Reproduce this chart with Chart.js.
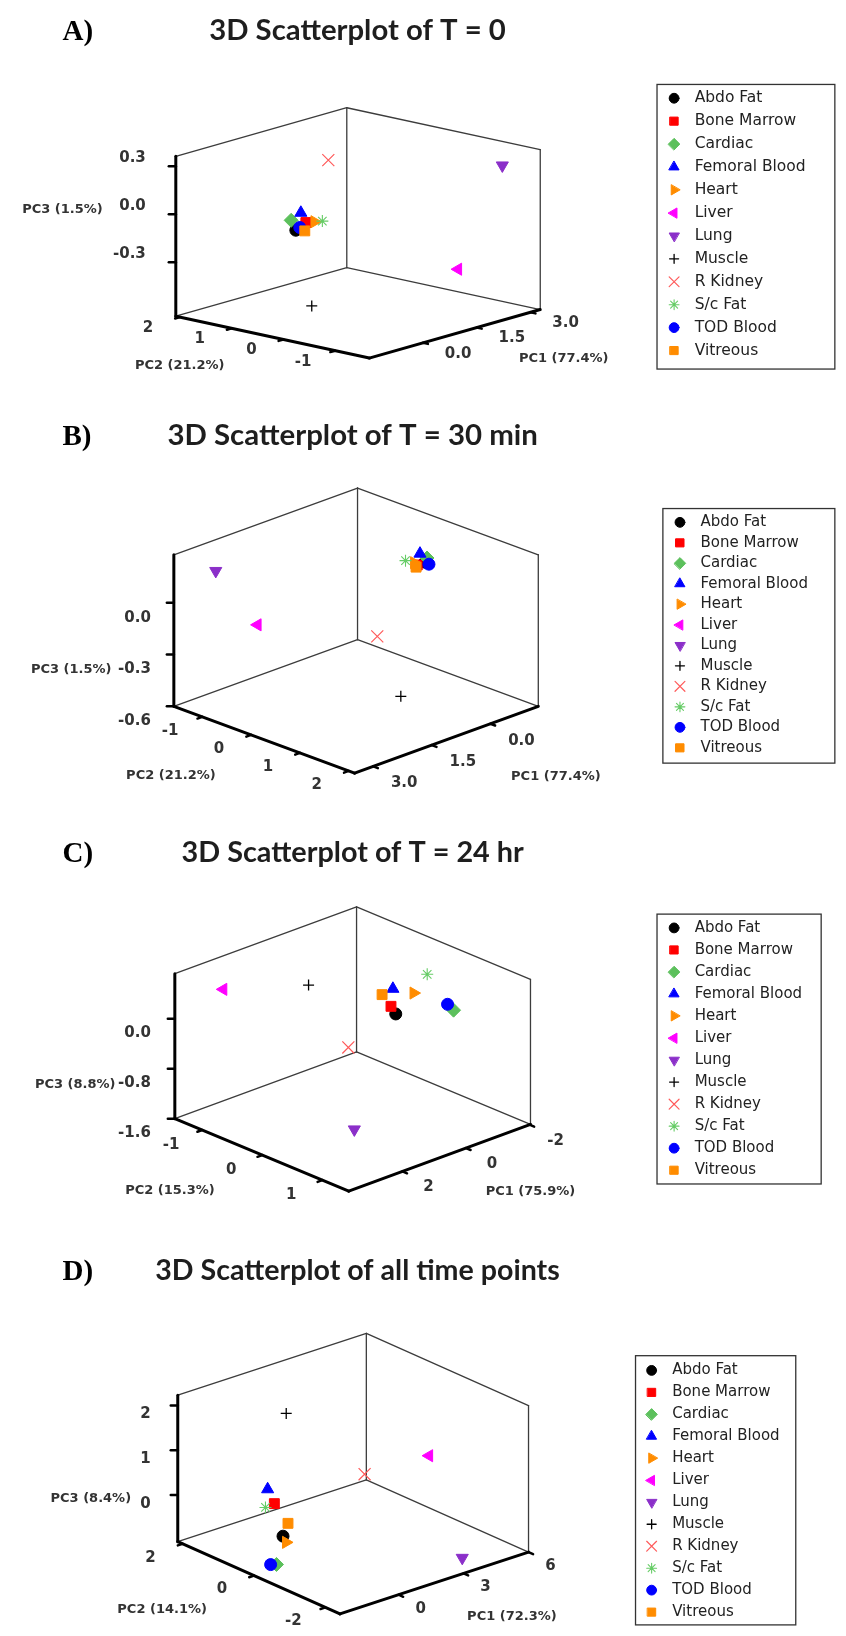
<!DOCTYPE html>
<html>
<head>
<meta charset="utf-8">
<title>3D Scatterplots of PCA scores</title>
<script src="https://cdn.jsdelivr.net/npm/chart.js@4.4.1/dist/chart.umd.min.js"></script>
<style>
  html, body { margin: 0; padding: 0; background: #fff; }
  #page { position: relative; width: 846px; height: 1636px; overflow: hidden; }
  .panel { position: absolute; left: 0; }
</style>
</head>
<body>
<div id="page">
  <canvas id="panelA" class="panel" width="846" height="403" style="top:0px"></canvas>
  <canvas id="panelB" class="panel" width="846" height="417" style="top:403px"></canvas>
  <canvas id="panelC" class="panel" width="846" height="418" style="top:820px"></canvas>
  <canvas id="panelD" class="panel" width="846" height="398" style="top:1238px"></canvas>
</div>
<script>
// tissues, in legend order
const tissues = ['Abdo Fat', 'Bone Marrow', 'Cardiac', 'Femoral Blood', 'Heart', 'Liver',
  'Lung', 'Muscle', 'R Kidney', 'S/c Fat', 'TOD Blood', 'Vitreous'];

// scores per time point (PC1, PC2, PC3), same order as tissues
const pc1T0 = [-0.85, -0.57, -0.98, -0.71, -0.33, 2.06, 3.02, -0.68, 0.59, -0.11, -0.74, -0.60];
const pc2T0 = [0.21, 0.21, 0.21, 0.21, 0.21, -0.91, -1.10, 0.02, 0.58, 0.21, 0.21, 0.21];
const pc3T0 = [-0.01, 0.02, 0.06, 0.09, 0.01, -0.36, 0.24, -0.48, 0.31, 0.00, 0.00, -0.03];

const pc1T30 = [-0.64, -0.44, -0.69, -0.51, -0.36, 2.02, 3.09, 0.68, 0.82, -0.14, -0.74, -0.41];
const pc2T30 = [0.27, 0.27, 0.27, 0.27, 0.27, -1.03, -1.03, 0.83, 0.46, 0.27, 0.27, 0.27];
const pc3T30 = [0.09, 0.09, 0.11, 0.15, 0.11, -0.19, 0.21, -0.52, -0.20, 0.14, 0.07, 0.08];

const pc1T24 = [0.30, 0.45, -1.52, 0.39, -0.26, 3.25, 1.32, 0.85, 0.96, -0.69, -1.33, 0.73];
const pc2T24 = [0.43, 0.43, 0.43, 0.43, 0.43, -0.88, 0.28, -0.73, -0.01, 0.43, 0.43, 0.43];
const pc3T24 = [0.20, 0.35, -0.08, 0.62, 0.43, 0.62, -1.52, 0.30, -0.39, 0.65, 0.05, 0.59];

const pc1All = [-0.84, -1.24, -1.90, -1.55, -0.70, 5.15, 3.68, 0.05, 2.17, -1.65, -2.17, -0.61];
const pc2All = [0.32, 0.32, -0.14, 0.32, 0.32, -0.14, -1.96, 0.77, -0.14, 0.32, -0.14, 0.32];
const pc3All = [-0.57, 0.22, -0.87, 0.59, -0.73, 0.44, -0.96, 1.87, 0.50, 0.20, -0.83, -0.32];

// tick labels
const pc1TicksT0 = ['0.0', '1.5', '3.0'];
const pc2TicksT0 = ['2', '1', '0', '-1'];
const pc3TicksT0 = ['0.3', '0.0', '-0.3'];
const pc1TicksT30 = ['0.0', '1.5', '3.0'];
const pc2TicksT30 = ['-1', '0', '1', '2'];
const pc3TicksT30 = ['0.0', '-0.3', '-0.6'];
const pc1TicksT24 = ['-2', '0', '2'];
const pc2TicksT24 = ['-1', '0', '1'];
const pc3TicksT24 = ['0.0', '-0.8', '-1.6'];
const pc1TicksAll = ['0', '3', '6'];
const pc2TicksAll = ['2', '0', '-2'];
const pc3TicksAll = ['2', '1', '0'];

const axisNamesT0 = ['PC1 (77.4%)', 'PC2 (21.2%)', 'PC3 (1.5%)'];
const axisNamesT30 = ['PC1 (77.4%)', 'PC2 (21.2%)', 'PC3 (1.5%)'];
const axisNamesT24 = ['PC1 (75.9%)', 'PC2 (15.3%)', 'PC3 (8.8%)'];
const axisNamesAll = ['PC1 (72.3%)', 'PC2 (14.1%)', 'PC3 (8.4%)'];

const colours = ['#000000', '#ff0000', '#5cc05c', '#0000ff', '#ff8c00', '#ff00ff',
  '#8b2fc9', '#000000', '#ff5a5a', '#66cc66', '#0000ff', '#ff8c00'];
const markers = [
  { style: 'circle', rotation: 0, radius: 6, line: 1 },
  { style: 'rect', rotation: 0, radius: 7, line: 1 },
  { style: 'rectRot', rotation: 0, radius: 7, line: 1 },
  { style: 'triangle', rotation: 0, radius: 7, line: 1 },
  { style: 'triangle', rotation: 90, radius: 7, line: 1 },
  { style: 'triangle', rotation: 270, radius: 7, line: 1 },
  { style: 'triangle', rotation: 180, radius: 7, line: 1 },
  { style: 'cross', rotation: 0, radius: 5.5, line: 1.3 },
  { style: 'crossRot', rotation: 0, radius: 8.5, line: 1.2 },
  { style: 'star', rotation: 0, radius: 6, line: 1.1 },
  { style: 'circle', rotation: 0, radius: 6, line: 1 },
  { style: 'rect', rotation: 0, radius: 7, line: 1 }
];

const panels = [
  {
    canvas: 'panelA', top: 0, height: 403, letter: 'A)', title: '3D Scatterplot of T = 0',
    titleAt: [356, 22], titleWidth: 297,
    front: [368, 366], right: [543, 315], left: [170, 322], boxHeight: 168,
    pc1Range: [-1.5, 3.27], pc2Range: [-1.66, 2.08], pc3Range: [-0.636, 0.362],
    pc1: pc1T0, pc2: pc2T0, pc3: pc3T0,
    pc1Ticks: pc1TicksT0, pc2Ticks: pc2TicksT0, pc3Ticks: pc3TicksT0, names: axisNamesT0,
    pc1Off: [35, 11], pc2Off: [-32, 11], pc3Off: [-30, -8],
    nameAt: [[567, 367], [174, 374], [54, 210]],
    legend: { box: [662, 78, 844, 377], markerX: 680, textX: 701, firstRow: 93, step: 24.1, font: 15.5 }
  },
  {
    canvas: 'panelB', top: 403, height: 417, letter: 'B)', title: '3D Scatterplot of T = 30 min',
    titleAt: [351, 427], titleWidth: 370,
    front: [353, 781], right: [541, 711], left: [168, 711], boxHeight: 159,
    pc1Range: [3.475, -1.225], pc2Range: [2.12, -1.58], pc3Range: [-0.6, 0.278],
    pc1: pc1T30, pc2: pc2T30, pc3: pc3T30,
    pc1Ticks: pc1TicksT30, pc2Ticks: pc2TicksT30, pc3Ticks: pc3TicksT30, names: axisNamesT30,
    pc1Off: [31, 17], pc2Off: [-32, 14], pc3Off: [-23, 15],
    nameAt: [[559, 785], [165, 784], [63, 672]],
    legend: { box: [668, 503, 844, 770], markerX: 686, textX: 707, firstRow: 518, step: 21.5, font: 15 }
  },
  {
    canvas: 'panelC', top: 820, height: 418, letter: 'C)', title: '3D Scatterplot of T = 24 hr',
    titleAt: [351, 844], titleWidth: 342,
    front: [347, 1199], right: [533, 1129], left: [169, 1123], boxHeight: 152,
    pc1Range: [3.69, -2.03], pc2Range: [1.44, -1.454], pc3Range: [-1.6, 0.723],
    pc1: pc1T24, pc2: pc2T24, pc3: pc3T24,
    pc1Ticks: pc1TicksT24, pc2Ticks: pc2TicksT24, pc3Ticks: pc3TicksT24, names: axisNamesT24,
    pc1Off: [26, 16], pc2Off: [-31, 15], pc3Off: [-24, 14],
    nameAt: [[533, 1200], [164, 1199], [67, 1087]],
    legend: { box: [662, 908, 830, 1191], markerX: 680, textX: 701, firstRow: 923, step: 23.1, font: 15 }
  },
  {
    canvas: 'panelD', top: 1238, height: 398, letter: 'D)', title: '3D Scatterplot of all time points',
    titleAt: [356, 1262], titleWidth: 404,
    front: [338, 1623], right: [531, 1558], left: [172, 1547], boxHeight: 154,
    pc1Range: [-2.71, 6.0], pc2Range: [-2.41, 2.135], pc3Range: [-1.04, 2.23],
    pc1: pc1All, pc2: pc2All, pc3: pc3All,
    pc1Ticks: pc1TicksAll, pc2Ticks: pc2TicksAll, pc3Ticks: pc3TicksAll, names: axisNamesAll,
    pc1Off: [22, 14], pc2Off: [-32, 14], pc3Off: [-27, 9],
    nameAt: [[514, 1626], [156, 1618], [83, 1502]],
    legend: { box: [640, 1351, 804, 1634], markerX: 657, textX: 678, firstRow: 1367, step: 23.1, font: 15 }
  }
];

function frac(val, range) {
  return (val - range[0]) / (range[1] - range[0]);
}

// oblique box: u along PC1 (front -> right), v along PC2 (front -> left), w up PC3
function unitPoint(p, u, v, w) {
  return {
    x: p.front[0] + u * (p.right[0] - p.front[0]) + v * (p.left[0] - p.front[0]),
    y: p.front[1] + u * (p.right[1] - p.front[1]) + v * (p.left[1] - p.front[1]) - w * p.boxHeight
  };
}

function project(p, a, b, c) {
  return unitPoint(p, frac(a, p.pc1Range), frac(b, p.pc2Range), frac(c, p.pc3Range));
}

function drawMarker(ctx, i, x, y, scale) {
  const m = markers[i];
  ctx.save();
  ctx.fillStyle = colours[i];
  ctx.strokeStyle = colours[i];
  ctx.lineWidth = m.line;
  if (Chart.helpers && Chart.helpers.drawPoint) {
    Chart.helpers.drawPoint(ctx, {
      pointStyle: m.style, rotation: m.rotation, radius: m.radius * scale, borderWidth: m.line
    }, x, y);
  } else {
    ctx.beginPath();
    ctx.arc(x, y, m.radius * scale, 0, Math.PI * 2);
    ctx.fill();
  }
  ctx.restore();
}

function boxPlugin(p) {
  return {
    id: 'box3d',
    beforeDatasetsDraw(chart) {
      const ctx = chart.ctx;
      const sx = chart.scales.x, sy = chart.scales.y;
      const px = pt => [sx.getPixelForValue(pt.x), sy.getPixelForValue(pt.y)];
      const line = (a, b, width, colour) => {
        const A = px(a), B = px(b);
        ctx.beginPath();
        ctx.moveTo(A[0], A[1]);
        ctx.lineTo(B[0], B[1]);
        ctx.lineWidth = width;
        ctx.strokeStyle = colour;
        ctx.lineCap = 'round';
        ctx.stroke();
      };

      ctx.save();
      // thin box edges
      const thin = '#3c3c3c';
      line(unitPoint(p, 1, 1, 0), unitPoint(p, 1, 1, 1), 1.3, thin);
      line(unitPoint(p, 1, 1, 1), unitPoint(p, 0, 1, 1), 1.3, thin);
      line(unitPoint(p, 1, 1, 1), unitPoint(p, 1, 0, 1), 1.3, thin);
      line(unitPoint(p, 1, 1, 0), unitPoint(p, 0, 1, 0), 1.3, thin);
      line(unitPoint(p, 1, 1, 0), unitPoint(p, 1, 0, 0), 1.3, thin);
      line(unitPoint(p, 1, 0, 0), unitPoint(p, 1, 0, 1), 1.3, thin);
      // axis edges
      line(unitPoint(p, 0, 1, 0), unitPoint(p, 0, 1, 1), 3, '#000');
      line(unitPoint(p, 0, 0, 0), unitPoint(p, 0, 1, 0), 3, '#000');
      line(unitPoint(p, 0, 0, 0), unitPoint(p, 1, 0, 0), 3, '#000');

      ctx.fillStyle = '#333';
      ctx.font = 'bold 15px "DejaVu Sans", sans-serif';
      ctx.textBaseline = 'middle';

      // PC3 ticks on the left upright
      ctx.textAlign = 'right';
      p.pc3Ticks.forEach(t => {
        const q = px(unitPoint(p, 0, 1, frac(parseFloat(t), p.pc3Range)));
        ctx.beginPath();
        ctx.moveTo(q[0] - 7, q[1]);
        ctx.lineTo(q[0], q[1]);
        ctx.lineWidth = 2.5;
        ctx.strokeStyle = '#000';
        ctx.stroke();
        ctx.fillText(t, q[0] + p.pc3Off[0], q[1] + p.pc3Off[1]);
      });

      // PC2 ticks along front-left edge
      ctx.textAlign = 'center';
      const ax = [p.front[0] - p.right[0], p.front[1] - p.right[1]];
      const axLen = Math.hypot(ax[0], ax[1]);
      p.pc2Ticks.forEach(t => {
        const q = px(unitPoint(p, 0, frac(parseFloat(t), p.pc2Range), 0));
        ctx.beginPath();
        ctx.moveTo(q[0], q[1]);
        ctx.lineTo(q[0] + ax[0] / axLen * 5, q[1] + ax[1] / axLen * 5);
        ctx.lineWidth = 2.5;
        ctx.strokeStyle = '#000';
        ctx.stroke();
        ctx.fillText(t, q[0] + p.pc2Off[0], q[1] + p.pc2Off[1]);
      });

      // PC1 ticks along front-right edge
      const bx = [p.front[0] - p.left[0], p.front[1] - p.left[1]];
      const bxLen = Math.hypot(bx[0], bx[1]);
      p.pc1Ticks.forEach(t => {
        const q = px(unitPoint(p, frac(parseFloat(t), p.pc1Range), 0, 0));
        ctx.beginPath();
        ctx.moveTo(q[0], q[1]);
        ctx.lineTo(q[0] + bx[0] / bxLen * 5, q[1] + bx[1] / bxLen * 5);
        ctx.lineWidth = 2.5;
        ctx.strokeStyle = '#000';
        ctx.stroke();
        ctx.fillText(t, q[0] + p.pc1Off[0], q[1] + p.pc1Off[1]);
      });

      // axis names
      ctx.font = 'bold 13px "DejaVu Sans", sans-serif';
      p.names.forEach((n, k) => {
        const q = px({ x: p.nameAt[k][0], y: p.nameAt[k][1] });
        ctx.fillText(n, q[0], q[1]);
      });

      // panel letter and title
      ctx.fillStyle = '#000';
      ctx.textAlign = 'left';
      ctx.font = 'bold 29px "Liberation Serif", serif';
      const lt = px({ x: 54, y: p.titleAt[1] + 2 });
      ctx.fillText(p.letter, lt[0], lt[1]);

      ctx.fillStyle = '#1e1e1e';
      ctx.textAlign = 'center';
      ctx.font = 'bold 26px Lato, sans-serif';
      const size = 26 * p.titleWidth / ctx.measureText(p.title).width;
      ctx.font = 'bold ' + size.toFixed(1) + 'px Lato, sans-serif';
      const tt = px({ x: p.titleAt[0], y: p.titleAt[1] });
      ctx.fillText(p.title, tt[0], tt[1]);

      // legend
      const lg = p.legend;
      const b0 = px({ x: lg.box[0], y: lg.box[1] });
      const b1 = px({ x: lg.box[2], y: lg.box[3] });
      ctx.lineWidth = 1.3;
      ctx.strokeStyle = '#333';
      ctx.strokeRect(b0[0] + 0.5, b0[1] + 0.5, b1[0] - b0[0], b1[1] - b0[1]);
      ctx.font = lg.font + 'px "DejaVu Sans", sans-serif';
      ctx.textAlign = 'left';
      ctx.fillStyle = '#222';
      tissues.forEach((name, i) => {
        const r = px({ x: lg.markerX, y: lg.firstRow + i * lg.step });
        drawMarker(ctx, i, r[0], r[1], 0.82);
        const tx = px({ x: lg.textX, y: lg.firstRow + i * lg.step });
        ctx.fillText(name, tx[0], tx[1]);
      });
      ctx.restore();
    }
  };
}

panels.forEach(p => {
  const datasets = tissues.map((name, i) => ({
    label: name,
    data: [project(p, p.pc1[i], p.pc2[i], p.pc3[i])],
    pointStyle: markers[i].style,
    pointRotation: markers[i].rotation,
    pointRadius: markers[i].radius,
    pointHoverRadius: markers[i].radius,
    pointBackgroundColor: colours[i],
    pointBorderColor: colours[i],
    pointBorderWidth: markers[i].line,
    backgroundColor: colours[i],
    borderColor: colours[i],
    order: -i
  }));

  new Chart(document.getElementById(p.canvas), {
    type: 'scatter',
    data: { datasets },
    options: {
      responsive: false,
      animation: false,
      devicePixelRatio: 1,
      layout: { padding: 0 },
      events: [],
      scales: {
        x: { type: 'linear', display: false, min: 0, max: 846 },
        y: { type: 'linear', display: false, min: p.top, max: p.top + p.height, reverse: true }
      },
      plugins: {
        legend: { display: false },
        title: { display: false },
        tooltip: { enabled: false }
      }
    },
    plugins: [boxPlugin(p)]
  });
});
</script>
</body>
</html>
